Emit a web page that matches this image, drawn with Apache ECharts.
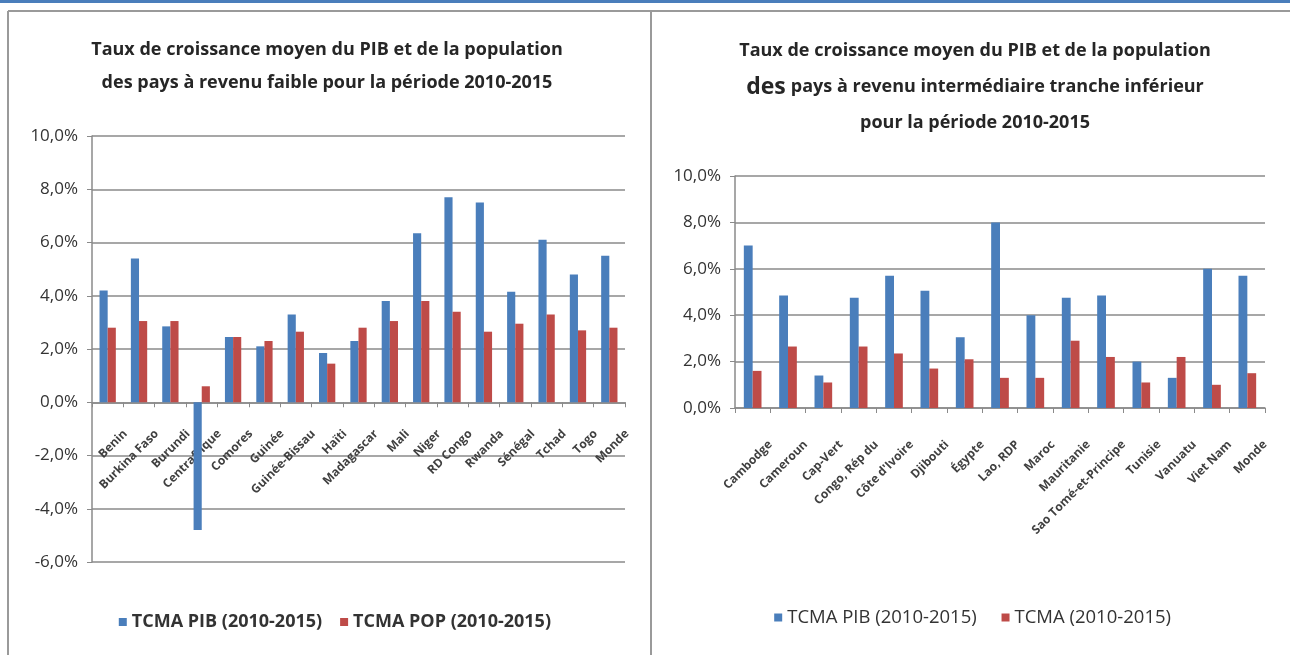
<!DOCTYPE html>
<html>
<head>
<meta charset="utf-8">
<title>Taux de croissance moyen du PIB et de la population</title>
<script src="https://cdn.jsdelivr.net/npm/echarts@6/dist/echarts.min.js"></script>
<style>
  html, body { margin: 0; padding: 0; background: #fff; }
  #chart { width: 1290px; height: 655px; }
</style>
</head>
<body>
<div id="chart"></div>
<script>
// pays à revenu faible
var paysFaible = ['Benin', 'Burkina Faso', 'Burundi', 'Centrafrique', 'Comores', 'Guinée',
    'Guinée-Bissau', 'Haïti', 'Madagascar', 'Mali', 'Niger', 'RD Congo', 'Rwanda',
    'Sénégal', 'Tchad', 'Togo', 'Monde'];
var pibFaible = [4.2, 5.4, 2.85, -4.8, 2.45, 2.1, 3.3, 1.85, 2.3, 3.8, 6.35, 7.7, 7.5, 4.15, 6.1, 4.8, 5.5];
var popFaible = [2.8, 3.05, 3.05, 0.6, 2.45, 2.3, 2.65, 1.45, 2.8, 3.05, 3.8, 3.4, 2.65, 2.95, 3.3, 2.7, 2.8];

// pays à revenu intermédiaire tranche inférieure
var paysInter = ['Cambodge', 'Cameroun', 'Cap-Vert', 'Congo, Rép du', "Côte d'Ivoire", 'Djibouti',
    'Égypte', 'Lao, RDP', 'Maroc', 'Mauritanie', 'Sao Tomé-et-Principe', 'Tunisie',
    'Vanuatu', 'Viet Nam', 'Monde'];
var pibInter = [7.0, 4.85, 1.4, 4.75, 5.7, 5.05, 3.05, 8.0, 4.0, 4.75, 4.85, 2.0, 1.3, 6.0, 5.7];
var popInter = [1.6, 2.65, 1.1, 2.65, 2.35, 1.7, 2.1, 1.3, 1.3, 2.9, 2.2, 1.1, 2.2, 1.0, 1.5];

var axeFaible = { min: -6, max: 10, interval: 2 };
var axeInter = { min: 0, max: 10, interval: 2 };

var bleu = '#4a7ebb';
var rouge = '#be4b48';
var gris = '#8a8a8a';
var police = '"Open Sans", sans-serif';

// l'axe des pays du premier graphique est remonté sur la ligne 0
var hautFaible = 562 - 136;
var decalageZero = hautFaible * (0 - axeFaible.min) / (axeFaible.max - axeFaible.min);

function pourcent(v) {
    return v.toFixed(1).replace('.', ',') + '%';
}

function axeX(idx, noms, decalage, marge) {
    return {
        type: 'category',
        gridIndex: idx,
        data: noms,
        offset: decalage,
        axisLine: { show: true, onZero: false, lineStyle: { color: gris, width: 1.5 } },
        axisTick: { show: true, length: 5, lineStyle: { color: gris } },
        axisLabel: {
            rotate: 45, interval: 0, margin: marge,
            verticalAlign: 'top', padding: [19, 0, 0, 0],
            color: '#404040', fontFamily: police, fontSize: 12, fontWeight: 'bold'
        }
    };
}

function axeY(idx, a) {
    return {
        type: 'value',
        gridIndex: idx,
        min: a.min, max: a.max, interval: a.interval,
        axisLine: { show: true, lineStyle: { color: gris, width: 1.5 } },
        axisTick: { show: true, length: 5, lineStyle: { color: gris } },
        splitLine: { lineStyle: { color: gris, width: 1.5 } },
        axisLabel: {
            formatter: pourcent, margin: 14,
            color: '#333', fontFamily: police, fontSize: 17
        }
    };
}

var chart = echarts.init(document.getElementById('chart'));

var option = {
    backgroundColor: '#fff',
    animation: false,
    title: [
        {
            text: 'Taux de croissance moyen du PIB et de la population\ndes pays à revenu faible pour la période 2010-2015',
            left: 322, top: 28, textAlign: 'center',
            textStyle: { fontFamily: police, fontSize: 18, fontWeight: 'bold', color: '#262626', lineHeight: 33 }
        },
        {
            text: '{a|Taux de croissance moyen du PIB et de la population}\n{big|des} {a|pays à revenu intermédiaire tranche inférieur}\n{a|pour la période 2010-2015}',
            left: 970, top: 28, textAlign: 'center',
            textStyle: {
                rich: {
                    a: { fontFamily: police, fontSize: 18, fontWeight: 'bold', color: '#262626', lineHeight: 36 },
                    big: { fontFamily: police, fontSize: 23, color: '#262626', lineHeight: 36 }
                }
            }
        }
    ],
    legend: [
        {
            right: 1290 - 556, top: 608,
            data: ['TCMA PIB (2010-2015)', 'TCMA POP (2010-2015)'],
            icon: 'rect', itemWidth: 8, itemHeight: 8, itemGap: 18,
            textStyle: { fontFamily: police, fontSize: 18, fontWeight: 'bold', color: '#333' }
        },
        {
            right: 1290 - 1176, top: 603,
            data: ['TCMA PIB (2010-2015) ', 'TCMA (2010-2015)'],
            icon: 'rect', itemWidth: 8, itemHeight: 8, itemGap: 20,
            textStyle: { fontFamily: police, fontSize: 18.5, color: '#333' }
        }
    ],
    grid: [
        { left: 92, right: 1290 - 625, top: 136, bottom: 655 - 562, containLabel: false },
        { left: 735, right: 1290 - 1265, top: 176, bottom: 655 - 408, containLabel: false }
    ],
    xAxis: [
        axeX(0, paysFaible, -decalageZero, 12),
        axeX(1, paysInter, 0, 17)
    ],
    yAxis: [axeY(0, axeFaible), axeY(1, axeInter)],
    series: [
        {
            name: 'TCMA PIB (2010-2015)', type: 'bar', xAxisIndex: 0, yAxisIndex: 0,
            data: pibFaible, itemStyle: { color: bleu }, barGap: '0%', barCategoryGap: '48%'
        },
        {
            name: 'TCMA POP (2010-2015)', type: 'bar', xAxisIndex: 0, yAxisIndex: 0,
            data: popFaible, itemStyle: { color: rouge }, barGap: '0%', barCategoryGap: '48%'
        },
        {
            name: 'TCMA PIB (2010-2015) ', type: 'bar', xAxisIndex: 1, yAxisIndex: 1,
            data: pibInter, itemStyle: { color: bleu }, barGap: '0%', barCategoryGap: '50%'
        },
        {
            name: 'TCMA (2010-2015)', type: 'bar', xAxisIndex: 1, yAxisIndex: 1,
            data: popInter, itemStyle: { color: rouge }, barGap: '0%', barCategoryGap: '50%'
        }
    ],
    graphic: [
        // bandeau bleu et cadres
        { type: 'rect', shape: { x: 0, y: 0, width: 1290, height: 3 }, style: { fill: '#4a7ebb' } },
        { type: 'line', shape: { x1: 8, y1: 11, x2: 1290, y2: 11 }, style: { stroke: '#9a9a9a', lineWidth: 2 } },
        { type: 'line', shape: { x1: 8, y1: 11, x2: 8, y2: 655 }, style: { stroke: '#9a9a9a', lineWidth: 2 } },
        { type: 'line', shape: { x1: 651, y1: 11, x2: 651, y2: 655 }, style: { stroke: '#9a9a9a', lineWidth: 2 } }
    ]
};

chart.setOption(option);
</script>
</body>
</html>
